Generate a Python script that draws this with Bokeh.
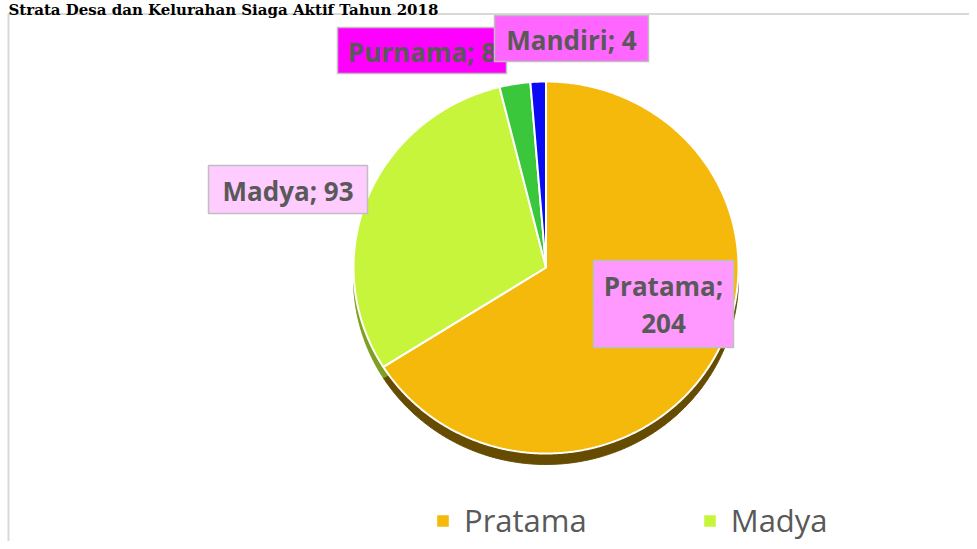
import numpy as np
from bokeh.plotting import figure
from bokeh.models import ColumnDataSource, Range1d, Legend, LegendItem, Label
from bokeh.embed import file_html
from bokeh.resources import INLINE
from bokeh.core.properties import value

# ---- data ----
categories = ["Pratama", "Madya", "Purnama", "Mandiri"]
counts = [204, 93, 8, 4]
slice_colors = ["#F5B90B", "#C7F53B", "#3BC73B", "#0A0AF5"]
side_colors = ["#664C00", "#7F9F22", "#1F7A1F", "#05057A"]
label_fills = ["#FF99FF", "#FFCCFF", "#FF00FF", "#FF66FF"]
title_text = "Strata Desa dan Kelurahan Siaga Aktif Tahun 2018"

# ---- layout constants (pixels, y up) ----
W, H = 969, 541
CX, CY = 545.5, 274.0
RX, RY = 192.5, 186.0
DEPTH = 11.0

p = figure(width=W, height=H, x_range=Range1d(0, W), y_range=Range1d(0, H),
           output_backend="svg", toolbar_location=None, min_border=0)
p.axis.visible = False
p.grid.visible = False
p.outline_line_color = None
p.background_fill_color = "white"
p.border_fill_color = "white"

# chart border
p.quad(left=8, right=W + 10, bottom=-20, top=527.5, fill_color=None,
       line_color="#D9D9D9", line_width=2)

# slice geometry from the values
vals = np.array(counts, dtype=float)
frac = vals / vals.sum()
ends = np.cumsum(frac) * 2 * np.pi
starts = ends - frac * 2 * np.pi

xs_top, ys_top, xs_side, ys_side = [], [], [], []
for a0, a1 in zip(starts, ends):
    t = np.linspace(a0, a1, max(int((a1 - a0) * 120), 4))
    x = np.concatenate([[CX], CX + RX * np.sin(t)])
    y = np.concatenate([[CY], CY + RY * np.cos(t)])
    xs_top.append(list(x))
    ys_top.append(list(y))
    xs_side.append(list(x))
    ys_side.append(list(y - DEPTH))

side_src = ColumnDataSource(dict(xs=xs_side, ys=ys_side, color=side_colors))
p.patches("xs", "ys", source=side_src, fill_color="color", line_color="color", line_width=1)

top_src = ColumnDataSource(dict(xs=xs_top, ys=ys_top, color=slice_colors, cat=categories))
top_r = p.patches("xs", "ys", source=top_src, fill_color="color",
                  line_color="white", line_width=2)

# data labels (boxes + text)
box_pos = {  # center x, center y, w, h
    "Pratama": (663, 237.5, 140, 87),
    "Madya": (287.5, 352, 159, 48),
    "Purnama": (421.5, 491, 169, 46),
    "Mandiri": (571, 503, 154, 46),
}
label_font = value("Open Sans")
for cat, n, fc in zip(categories, counts, label_fills):
    bx, by, bw, bh = box_pos[cat]
    p.rect(x=[bx], y=[by], width=[bw], height=[bh], fill_color=fc,
           line_color="#BFBFBF", line_width=1.5)
    if cat == "Pratama":
        lines = [f"{cat};", f"{n}"]
        ys = [by + 18, by - 19]
    else:
        lines = [f"{cat}; {n}"]
        ys = [by - 1]
    p.text(x=[bx] * len(lines), y=ys, text=lines, text_font=label_font,
           text_font_size="26px", text_font_style="bold", text_color="#595959",
           text_align="center", text_baseline="middle")

# title
p.add_layout(Label(x=8, y=H, text=title_text, text_font="DejaVu Serif",
                   text_font_style="bold", text_font_size="15px",
                   text_color="black", text_baseline="top"))

# legend
items = [LegendItem(label=categories[i], renderers=[top_r], index=i) for i in (0, 1)]
legend = Legend(items=items, orientation="horizontal", location=(434, 0),
                label_text_font="Open Sans", label_text_font_size="31px",
                label_text_color="#595959", glyph_width=17, glyph_height=17,
                label_standoff=13, spacing=114, padding=0, margin=0,
                border_line_color=None, background_fill_alpha=0)
p.add_layout(legend, "center")

open("out.html", "w").write(file_html(p, INLINE))
